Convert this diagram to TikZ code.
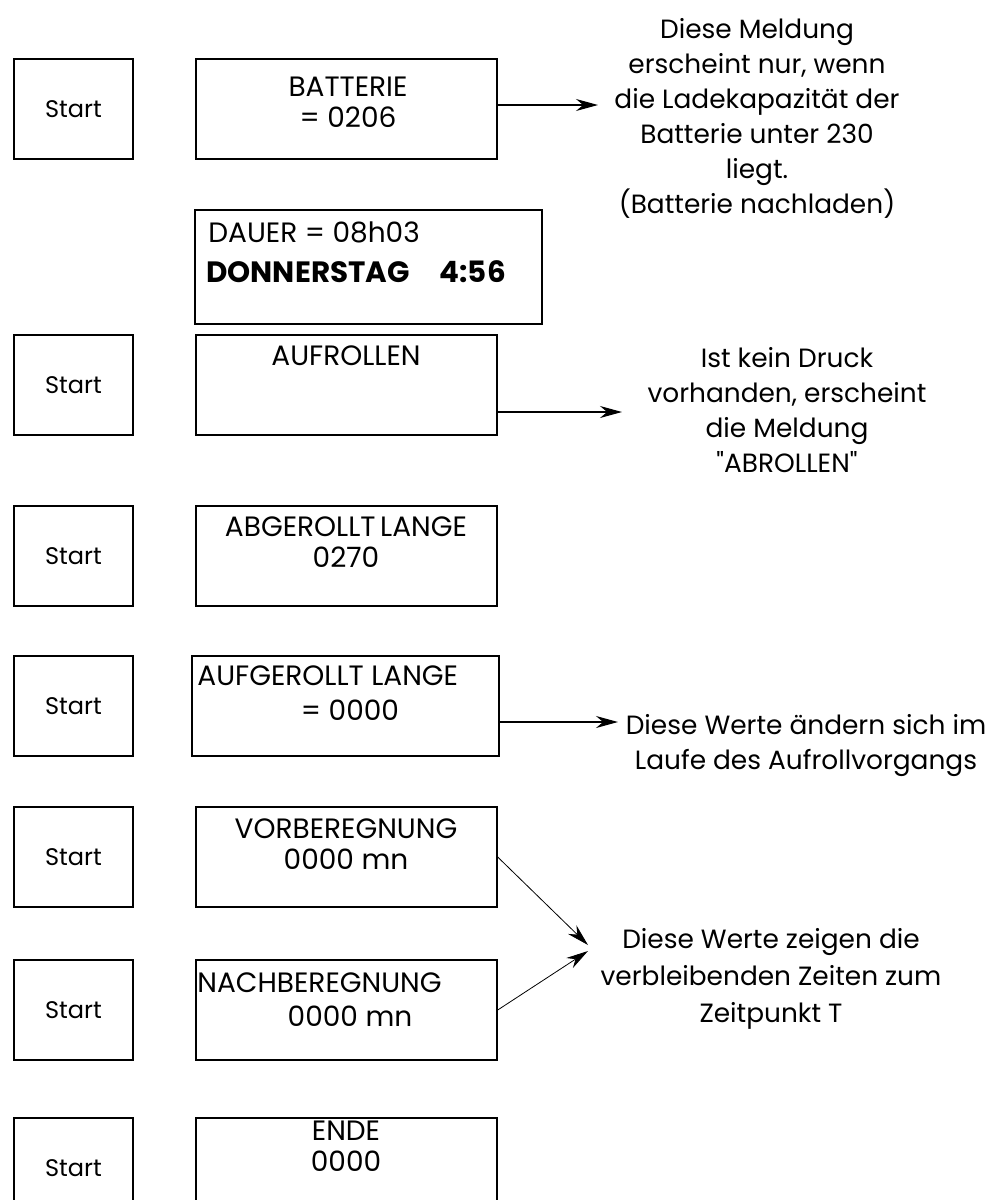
\documentclass[tikz,border=0pt]{standalone}
\usepackage{fontspec}
\setmainfont{Poppins}
\usetikzlibrary{arrows.meta}

\newcommand\dispfont{\fontsize{14pt}{15.5pt}\selectfont}
\newcommand\notefont{\fontsize{13.2pt}{17.5pt}\selectfont}

\tikzset{
  startbox/.style={draw, line width=0.7pt, minimum width=59.5pt, minimum height=50pt, inner sep=0pt, font=\fontsize{12pt}{14pt}\selectfont},
  screen/.style={draw, line width=0.7pt, minimum width=150.5pt, minimum height=50pt, inner sep=0pt},
  screentext/.style={align=center, inner sep=0pt, font=\dispfont},
  note/.style={align=center, inner sep=0pt, font=\notefont},
  pointer/.style={-{Stealth[length=11pt,width=6pt]}, line width=0.6pt},
  thinpointer/.style={-{Stealth[length=11pt,width=6pt]}, line width=0.4pt}
}

\begin{document}
\begin{tikzpicture}[x=0.5pt,y=-0.5pt]
\useasboundingbox (0,0) rectangle (1007,1200);
\clip (0,0) rectangle (1007,1200);

% start buttons
\foreach \name/\y in {s1/109, s2/385, s3/556, s4/706, s5/857, s6/1010, s7/1168}
  \node[startbox] (\name) at (73.5,\y) {Start};

% display screens
\node[screen] (bat) at (346.5,109) {};
\node[screentext] (battxt) at (348,102) {BATTERIE\\= 0206};

\node[screen, minimum width=173.5pt, minimum height=57pt] (dauer) at (368.5,267) {};
\node[screentext, anchor=west] (dauertxt) at (208,232) {DAUER = 08h03};
\node[screentext, anchor=west, font=\fontsize{14.7pt}{16pt}\selectfont\bfseries] (tagtxt) at (206,272) {DONNERSTAG\hspace{15pt}4:56};

\node[screen] (auf) at (346.5,385) {};
\node[screentext] (auftxt) at (346,356) {AUFROLLEN};

\node[screen] (abg) at (346.5,556) {};
\node[screentext] (abgtxt) at (346,542) {ABGEROLLT\,LANGE\\0270};

\node[screen, minimum width=153.5pt] (aufg) at (345.5,706) {};
\node[screentext, anchor=west] (aufgtxt) at (197,676) {AUFGEROLLT LANGE};
\node[screentext] (aufgval) at (350,710) {= 0000};

\node[screen] (vor) at (346.5,857) {};
\node[screentext] (vortxt) at (346,844) {VORBEREGNUNG\\0000 mn};

\node[screen] (nach) at (346.5,1010) {};
\node[screentext, anchor=west] (nachtxt) at (197,983) {NACHBEREGNUNG};
\node[screentext] (nachval) at (350,1016) {0000 mn};

\node[screen] (ende) at (346.5,1168) {};
\node[screentext] (endetxt) at (346,1146) {ENDE\\0000};

% remarks
\node[note] (n1) at (757,118) {Diese Meldung\\erscheint nur, wenn\\die Ladekapazität der\\Batterie unter 230\\liegt.\\(Batterie nachladen)};
\node[note] (n2) at (787,410) {Ist kein Druck\\vorhanden, erscheint\\die Meldung\\\textquotedbl ABROLLEN\textquotedbl};
\node[note] (n3) at (806,746) {Diese Werte ändern sich im\\Laufe des Aufrollvorgangs};
\node[note, font=\fontsize{13.2pt}{18.5pt}\selectfont] (n4) at (771,979) {Diese Werte zeigen die\\verbleibenden Zeiten zum\\Zeitpunkt T};

% arrow ends
\coordinate (t1) at (598,105);
\coordinate (t2) at (622,412);
\coordinate (t3) at (618,722);
\coordinate (t4) at (588,945);
\coordinate (t5) at (588,951);

\draw[pointer] (bat.east |- t1) -- (t1);
\draw[pointer] (auf.east |- t2) -- (t2);
\draw[pointer] (aufg.east |- t3) -- (t3);
\draw[thinpointer] (vor.east) -- (t4);
\draw[thinpointer] (nach.east) -- (t5);

\end{tikzpicture}
\end{document}
